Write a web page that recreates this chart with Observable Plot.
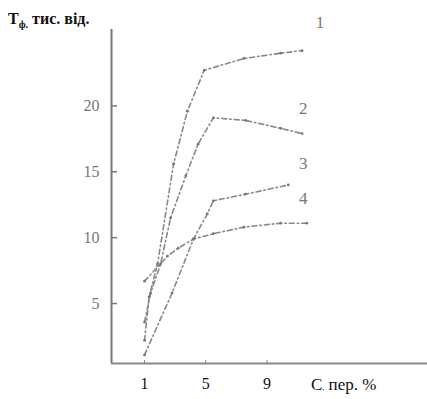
<!DOCTYPE html>
<html><head><meta charset="utf-8">
<script src="https://cdn.jsdelivr.net/npm/d3@7"></script>
<script src="https://cdn.jsdelivr.net/npm/@observablehq/plot@0.6"></script>
<style>body{margin:0;background:#fff} svg text{font-family:'Times New Roman','Liberation Serif',Times,'DejaVu Serif',serif !important}</style>
</head><body><div id="chart"></div>
<script>
// Curve data: C (%) vs T (thousand cycles)
const c1 = [1, 1.3, 1.85, 2.9, 3.8, 4.9, 7.5, 9.9, 11.3];
const t1 = [2.2, 5.5, 8.0, 15.6, 19.6, 22.7, 23.6, 24.0, 24.2];
const c2 = [1, 1.4, 2.05, 2.7, 3.7, 4.5, 5.5, 7.6, 9.9, 11.3];
const t2 = [3.6, 5.8, 8.0, 11.5, 14.7, 17.1, 19.1, 18.9, 18.3, 17.9];
const c3 = [1, 2.8, 4.2, 5.1, 5.5, 7.6, 10.4];
const t3 = [1.1, 5.8, 9.9, 11.8, 12.8, 13.3, 14.0];
const c4 = [1, 2.5, 3.2, 4.2, 5.5, 7.5, 9.9, 11.6];
const t4 = [6.7, 8.6, 9.2, 9.9, 10.3, 10.8, 11.1, 11.1];
const curveNames = ["1", "2", "3", "4"];
const labelC = [12.2, 11.1, 11.1, 11.1];
const labelT = [26.3, 19.8, 15.6, 13.0];
const xTicks = [1, 5, 9];
const yTicks = [5, 10, 15, 20];

const series = [[c1, t1], [c2, t2], [c3, t3], [c4, t4]];
const rows = series.flatMap(([cs, ts], k) => cs.map((c, i) => ({c, t: ts[i], s: curveNames[k]})));
const labels = curveNames.map((n, i) => ({n, c: labelC[i], t: labelT[i]}));

const xDom = [-1.16, 19.5], yDom = [0.45, 25.8];
const serif = "'Times New Roman', 'Liberation Serif', serif";

const plot = Plot.plot({
  width: 427, height: 399,
  marginLeft: 111, marginRight: 0, marginTop: 29, marginBottom: 36,
  x: {domain: xDom, label: null},
  y: {domain: yDom, label: null},
  style: {fontFamily: serif, background: "#fff"},
  marks: [
    Plot.ruleX([xDom[0]], {stroke: "#777", strokeWidth: 2}),
    Plot.ruleY([yDom[0]], {stroke: "#888", strokeWidth: 2}),
    Plot.axisY({ticks: yTicks, tickSize: 6, text: null, label: null, dx: 6, stroke: "#777", strokeWidth: 1.5}),
    Plot.axisY({ticks: yTicks, tickSize: 0, tickPadding: 12, label: null, fontSize: 16, fill: "#777"}),
    Plot.axisX({ticks: xTicks, tickSize: 3, text: null, label: null, dy: -3, stroke: "#888"}),
    Plot.axisX({ticks: xTicks, tickSize: 0, tickPadding: 14, label: null, fontSize: 16, fill: "#111"}),
    Plot.line(rows, {x: "c", y: "t", z: "s", stroke: "#888", strokeWidth: 1.6, strokeDasharray: "5,3,1.5,3", curve: "linear"}),
    Plot.dot(rows, {x: "c", y: "t", r: 1.4, fill: "#777"}),
    Plot.text(labels, {x: "c", y: "t", text: "n", fontSize: 17, fill: "#777", textAnchor: "start"})
  ]
});
const svg = d3.select(plot);
const ylab = svg.append("text").attr("x", 8).attr("y", 24).attr("text-anchor", "start")
  .attr("font-weight", "bold").attr("font-size", 16).attr("fill", "#111");
ylab.append("tspan").text("Т");
ylab.append("tspan").attr("font-size", 10).attr("dy", 4).text("ф.");
ylab.append("tspan").attr("dy", -4).text(" тис. від.");
const xlab = svg.append("text").attr("x", 311).attr("y", 390).attr("text-anchor", "start")
  .attr("font-size", 17).attr("fill", "#111");
xlab.append("tspan").text("C");
xlab.append("tspan").attr("font-size", 8).text(",");
xlab.append("tspan").text(" пер. %");
document.getElementById("chart").appendChild(plot);
</script></body></html>
